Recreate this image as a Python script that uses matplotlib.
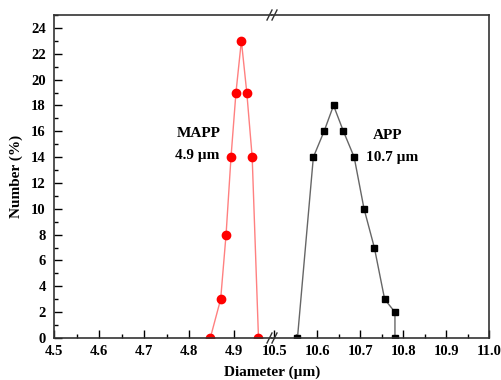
import matplotlib.pyplot as plt
from matplotlib.ticker import MultipleLocator

plt.rcParams['font.family'] = ['Liberation Serif', 'DejaVu Serif']
plt.rcParams['font.weight'] = 'bold'

# data
mapp_d = [4.847, 4.870, 4.882, 4.893, 4.904, 4.916, 4.928, 4.940, 4.954]
mapp_n = [0, 3, 8, 14, 19, 23, 19, 14, 0]
app_d = [10.554, 10.591, 10.616, 10.638, 10.661, 10.686, 10.709, 10.733, 10.757, 10.781, 10.781]
app_n = [0, 14, 16, 18, 16, 14, 10, 7, 3, 2, 0]

left_ticks = [4.5, 4.6, 4.7, 4.8, 4.9]
right_ticks = [10.5, 10.6, 10.7, 10.8, 10.9, 11.0]

fig = plt.figure(figsize=(5.02, 3.8), dpi=100)
ax1 = fig.add_axes([54/502, 42/380, 218/502, 323/380])
ax2 = fig.add_axes([272/502, 42/380, 217/502, 323/380])

ax1.plot(mapp_d, mapp_n, '-o', color='#ff8080', lw=1.0, mfc='red', mec='red', ms=6)
ax2.plot(app_d, app_n, '-s', color='#666666', lw=1.0, mfc='black', mec='black', ms=5)

ax1.set_xlim(4.5, 4.984)
ax2.set_xlim(10.4947, 11.0)
for ax in (ax1, ax2):
    ax.set_ylim(0, 25)
    ax.xaxis.set_minor_locator(MultipleLocator(0.05))
    ax.tick_params(which='both', direction='in', labelsize=10.5, width=1.0)
    ax.tick_params(which='major', length=6)
    ax.tick_params(which='minor', length=3)
    ax.tick_params(axis='x', top=False, pad=5)
    for s in ax.spines.values():
        s.set_linewidth(1.2)
        s.set_color('#333333')

ax1.set_xticks(left_ticks)
ax2.set_xticks(right_ticks)
ax1.set_yticks(range(0, 25, 2))
ax1.yaxis.set_minor_locator(MultipleLocator(1))
ax1.tick_params(axis='y', right=False, pad=6)
ax1.spines['right'].set_visible(False)
ax2.spines['left'].set_visible(False)
ax2.tick_params(axis='y', which='both', left=False, right=False, labelleft=False)

ax1.set_ylabel('Number (%)', fontsize=11, fontweight='bold', labelpad=6)
fig.text(272/502, 1 - 372/380, 'Diameter (\u00b5m)', ha='center', va='center',
         fontsize=11, fontweight='bold')

ax1.text(4.822, 15.85, 'MAPP', ha='center', va='center', fontsize=11, fontweight='bold')
ax1.text(4.819, 14.15, '4.9 \u00b5m', ha='center', va='center', fontsize=11, fontweight='bold')
ax2.text(10.764, 15.7, 'APP', ha='center', va='center', fontsize=11, fontweight='bold')
ax2.text(10.774, 14.0, '10.7 \u00b5m', ha='center', va='center', fontsize=11, fontweight='bold')

# break marks
for y in (42/380, 365/380):
    for dx in (-3, 2):
        x0 = (270 + dx) / 502
        fig.add_artist(plt.Line2D([x0, x0 + 5/502], [y - 5/380, y + 5/380],
                                  color='#333333', lw=1.0))

fig.savefig('out.png', dpi=100)
